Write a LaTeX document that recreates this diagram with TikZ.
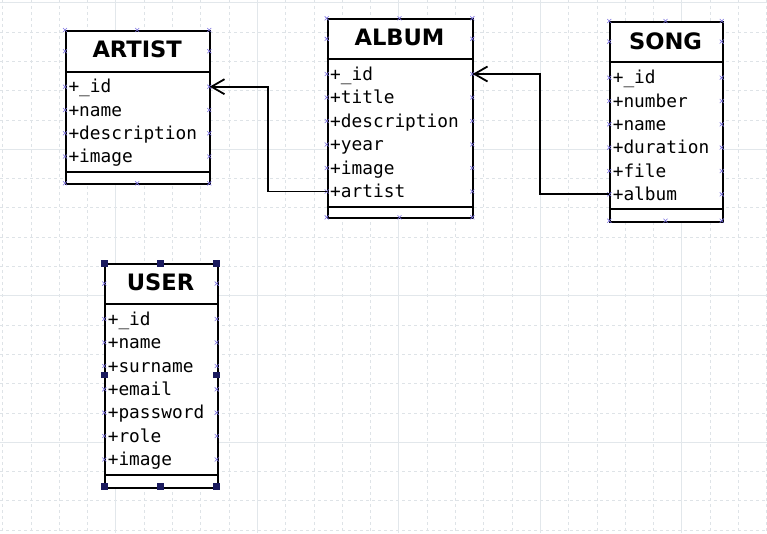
\documentclass[tikz,border=0pt]{standalone}
\usepackage{fontspec}
\newfontfamily\attrfont{DejaVu Sans Mono}
\newfontfamily\titlefont{DejaVu Sans}
\usetikzlibrary{arrows.meta}
\definecolor{gridsolid}{HTML}{E2E7EB}
\definecolor{griddash}{HTML}{DEE3E7}
\definecolor{pmark}{HTML}{7A70E0}
\definecolor{handlecol}{HTML}{1A1A5E}
\tikzset{
  tablebox/.style={draw=black, line width=1.8pt, fill=white, inner sep=0pt, anchor=north west},
  sepline/.style={draw=black, line width=1.8pt},
  titletext/.style={font=\titlefont\bfseries\fontsize{22.6}{22.6}\selectfont, inner sep=0pt, anchor=base},
  attrrow/.style={font=\attrfont\fontsize{17.8}{17.8}\selectfont, inner xsep=3.3pt, inner ysep=0pt,
     text height=14.5pt, text depth=2pt, minimum height=23pt, align=left, anchor=west},
  conn/.style={draw=black, line width=1.8pt},
  gridd/.style={draw=griddash, line width=0.7pt, dash pattern=on 3pt off 3pt},
  grids/.style={draw=gridsolid, line width=1pt},
  cmark/.pic={\draw[pmark, line width=0.6pt] (-2,-2) -- (2,2) (-2,2) -- (2,-2);},
  handle/.style={fill=handlecol, draw=none, minimum size=6.5pt, inner sep=0pt},
  barb/.style={-{Straight Barb[length=13pt,width=15pt,line width=1.8pt]}}
}
\begin{document}
\begin{tikzpicture}[x=1pt,y=-1pt]
\useasboundingbox (0,0) rectangle (767,533);
\fill[white] (0,0) rectangle (767,533);
% grid
\foreach \k in {0,...,27} \draw[gridd] ({2.6+28.3*\k},0) -- ({2.6+28.3*\k},533);
\foreach \k in {0,...,18} \draw[gridd] (0,{2.7+29.3*\k}) -- (767,{2.7+29.3*\k});
\foreach \xx in {115.8,257.3,398.8,540.3,681.8} \draw[grids] (\xx,0) -- (\xx,533);
\foreach \yy in {2.7,149.2,295.7,442.2} \draw[grids] (0,\yy) -- (767,\yy);

% ARTIST
\node[tablebox, minimum width=144.3pt, minimum height=153.3pt] (artist) at (65,30) {};
\draw[sepline] (65,72.3) -- (209.3,72.3);
\draw[sepline] (65,171.7) -- (209.3,171.7);
\node[titletext] (artist-title) at (137.2,57.3) {ARTIST};
\node[attrrow, text width=137.7pt] (artist-id) at (65,86.7) {+\_id};
\node[attrrow, text width=137.7pt] (artist-name) at (65,110) {+name};
\node[attrrow, text width=137.7pt] (artist-desc) at (65,133.3) {+description};
\node[attrrow, text width=137.7pt] (artist-image) at (65,156.5) {+image};
\foreach \yy in {30,51.2,86.7,110,133.3,156.5,183.3} {\pic at (65,\yy) {cmark}; \pic at (209.3,\yy) {cmark};}
\pic at (137.2,30) {cmark}; \pic at (137.2,183.3) {cmark};

% ALBUM
\node[tablebox, minimum width=145.6pt, minimum height=199pt] (album) at (326.7,18.3) {};
\draw[sepline] (326.7,59.3) -- (472.3,59.3);
\draw[sepline] (326.7,206.7) -- (472.3,206.7);
\node[titletext] (album-title) at (399.5,45) {ALBUM};
\node[attrrow, text width=139pt] (album-id) at (326.7,74) {+\_id};
\node[attrrow, text width=139pt] (album-titlef) at (326.7,97.5) {+title};
\node[attrrow, text width=139pt] (album-desc) at (326.7,121) {+description};
\node[attrrow, text width=139pt] (album-year) at (326.7,144.5) {+year};
\node[attrrow, text width=139pt] (album-image) at (326.7,168) {+image};
\node[attrrow, text width=139pt] (album-artist) at (326.7,191.5) {+artist};
\foreach \yy in {18.3,38.8,74,97.5,121,144.5,168,191.5,217.3} {\pic at (326.7,\yy) {cmark}; \pic at (472.3,\yy) {cmark};}
\pic at (399.5,18.3) {cmark}; \pic at (399.5,217.3) {cmark};

% SONG
\node[tablebox, minimum width=112.4pt, minimum height=199.7pt] (song) at (609.3,21) {};
\draw[sepline] (609.3,62.3) -- (721.7,62.3);
\draw[sepline] (609.3,209.3) -- (721.7,209.3);
\node[titletext] (song-title) at (665.5,49.3) {SONG};
\node[attrrow, text width=105.8pt] (song-id) at (609.3,77.7) {+\_id};
\node[attrrow, text width=105.8pt] (song-number) at (609.3,101) {+number};
\node[attrrow, text width=105.8pt] (song-name) at (609.3,124.3) {+name};
\node[attrrow, text width=105.8pt] (song-duration) at (609.3,147.6) {+duration};
\node[attrrow, text width=105.8pt] (song-file) at (609.3,171) {+file};
\node[attrrow, text width=105.8pt] (song-album) at (609.3,194.3) {+album};
\foreach \yy in {21,41.6,77.7,101,124.3,147.6,171,194.3,220.7} {\pic at (609.3,\yy) {cmark}; \pic at (721.7,\yy) {cmark};}
\pic at (665.5,21) {cmark}; \pic at (665.5,220.7) {cmark};

% USER
\node[tablebox, minimum width=112.4pt, minimum height=223.4pt] (user) at (104.3,263.3) {};
\draw[sepline] (104.3,304) -- (216.7,304);
\draw[sepline] (104.3,475.3) -- (216.7,475.3);
\node[titletext] (user-title) at (160.5,290) {USER};
\node[attrrow, text width=105.8pt] (user-id) at (104.3,319) {+\_id};
\node[attrrow, text width=105.8pt] (user-name) at (104.3,342.5) {+name};
\node[attrrow, text width=105.8pt] (user-surname) at (104.3,366) {+surname};
\node[attrrow, text width=105.8pt] (user-email) at (104.3,389.3) {+email};
\node[attrrow, text width=105.8pt] (user-password) at (104.3,412.7) {+password};
\node[attrrow, text width=105.8pt] (user-role) at (104.3,436) {+role};
\node[attrrow, text width=105.8pt] (user-image) at (104.3,459.5) {+image};
\foreach \yy in {283.6,319,342.5,366,389.3,412.7,436,459.5} {\pic at (104.3,\yy) {cmark}; \pic at (216.7,\yy) {cmark};}
\foreach \xx/\yy [count=\i] in {104.3/263.3,160.5/263.3,216.7/263.3,104.3/375,216.7/375,104.3/486.7,160.5/486.7,216.7/486.7}
  \node[handle] (h\i) at (\xx,\yy) {};

% connectors
\draw[conn, barb] (album-artist.west) -- ++(-58.4,0) |- (artist-id.east);
\draw[conn, barb] (song-album.west) -- ++(-69,0) |- (album-id.east);
\end{tikzpicture}
\end{document}
